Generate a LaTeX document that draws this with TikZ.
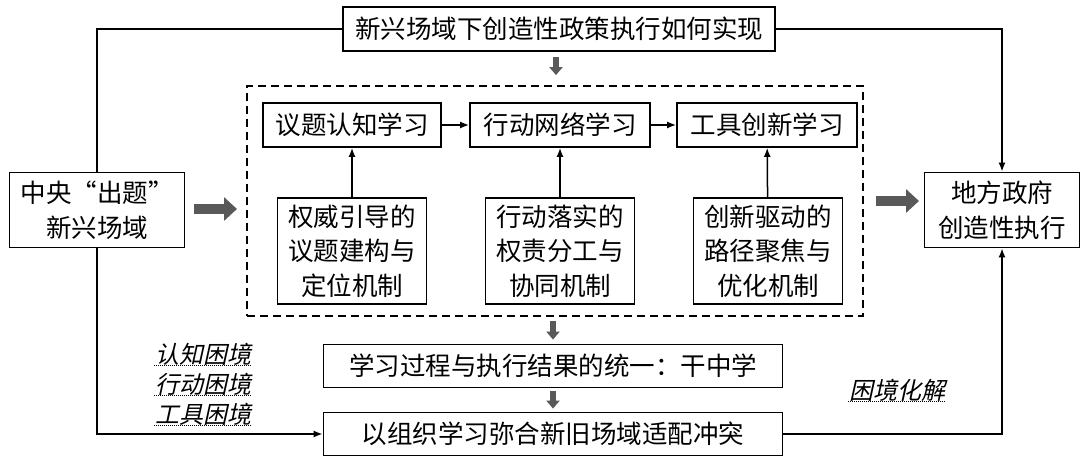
\documentclass[tikz,border=0pt]{standalone}
\usepackage{fontspec}
\newfontfamily\cjk{Noto Sans CJK SC}
\newfontfamily\cjkslant[FakeSlant=0.22]{Noto Sans CJK SC}
\usetikzlibrary{arrows.meta}
\tikzset{box/.style={draw, line width=1.8pt, align=center, inner sep=0pt,
    font=\cjk\fontsize{25.5}{34.5}\selectfont},
  thin/.style={line width=1.5pt},
  arr/.style={thin, -{Latex[length=9pt,width=7pt]}},
  fatarrow/.style={draw=black!80, line width=10pt, black!65,
    -{Triangle[length=13pt,width=23pt]}},
  downarrow/.style={line width=5.5pt, black!65, -{Triangle[length=8pt,width=13pt]}},
  dilemma/.style={font=\cjkslant\fontsize{24}{26}\selectfont, inner sep=0.5pt}
}

\begin{document}
\begin{tikzpicture}[x=1pt,y=-1pt]
                \useasboundingbox (0,0) rectangle (1087,462);
                \fill[white] (0,0) rectangle (1087,462);

                % Question and the two ends
                \node[box, minimum width=432pt, minimum height=44pt] (top) at (559,29) {新兴场域下创造性政策执行如何实现};
                \node[box, minimum width=175pt, minimum height=75pt] (lft) at (97,210) {中央“出题”\\新兴场域};
                \node[box, minimum width=155pt, minimum height=75pt] (rgt) at (1002,210) {地方政府\\创造性执行};

                % Dashed frame of the learning process
                \node[draw, line width=1.8pt, dash pattern=on 8pt off 5pt, minimum width=616pt, minimum height=230pt] (frame) at (555,201) {};

                \node[box, minimum width=178pt, minimum height=44pt] (learnA) at (352,125) {议题认知学习};
                \node[box, minimum width=180pt, minimum height=44pt] (learnB) at (560,125) {行动网络学习};
                \node[box, minimum width=180pt, minimum height=44pt] (learnC) at (767,125) {工具创新学习};

                \node[box, minimum width=149pt, minimum height=106pt] (mechA) at (352,251) {权威引导的\\议题建构与\\定位机制};
                \node[box, minimum width=149pt, minimum height=106pt] (mechB) at (560,251) {行动落实的\\权责分工与\\协同机制};
                \node[box, minimum width=149pt, minimum height=106pt] (mechC) at (768,251) {创新驱动的\\路径聚焦与\\优化机制};

                \draw[arr] (learnA) -- (learnB);
                \draw[arr] (learnB) -- (learnC);
                \draw[arr] (mechA) -- (learnA);
                \draw[arr] (mechB) -- (learnB);
                \draw[arr] (mechC) -- (learnC);

                % Lower boxes
                \node[box, minimum width=459pt, minimum height=43pt] (mid) at (553,366) {学习过程与执行结果的统一：干中学};
                \node[box, minimum width=459pt, minimum height=43pt] (bot) at (553,434) {以组织学习弥合新旧场域适配冲突};

                % Outer connectors
                \draw[thin] (top.west) -| (lft.north);
                \draw[arr] (lft.south) |- (bot.west);
                \draw[arr] (top.east) -| (rgt.north);
                \draw[arr] (bot.east) -| (rgt.south);

                % Grey arrows
                \coordinate (inL) at (194,209);
                \coordinate (inR) at (876,201);
                \draw[fatarrow] (inL) -- (237,209);
                \draw[fatarrow] (inR) -- (919,201);
                \draw[downarrow, shorten <=5pt, shorten >=10pt] (top.south -| 556,0) -- (frame.north -| 556,0);
                \draw[downarrow, shorten <=4pt, shorten >=4pt] (mid.north |- frame.south) -- (mid.north);
                \draw[downarrow, shorten <=3pt, shorten >=3pt] (mid.south) -- (bot.north);

                % Labels
                \node[dilemma] (dA) at (203,354) {认知困境};
                \node[dilemma] (dB) at (203,384) {行动困境};
                \node[dilemma] (dC) at (203,414) {工具困境};
                \node[dilemma] (solve) at (897,390) {困境化解};
                \foreach \n in {dA,dB,dC,solve}
                  \draw[densely dotted, line width=1pt] (\n.south west) -- (\n.south east);
            \end{tikzpicture}
\end{document}
